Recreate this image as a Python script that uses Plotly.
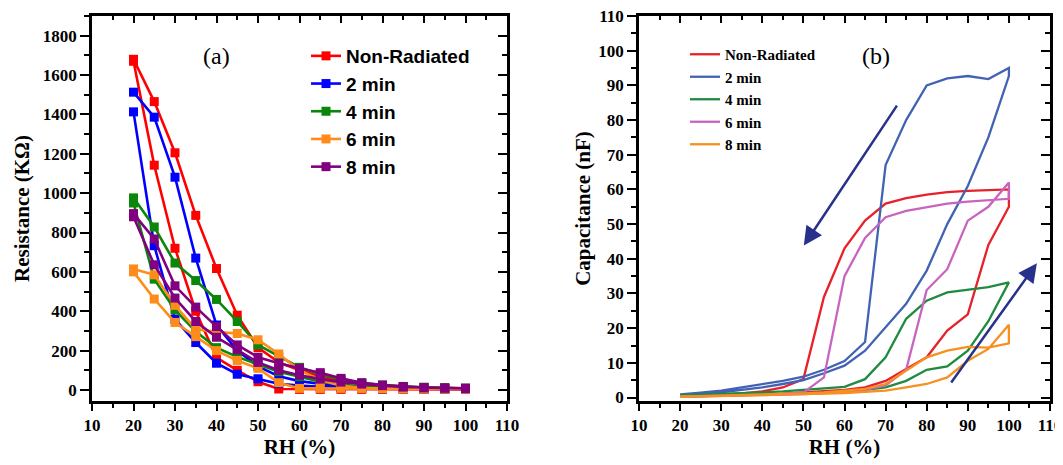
import plotly.graph_objects as go

# ---------------- data ----------------
RH = [20, 25, 30, 35, 40, 45, 50, 55, 60, 65, 70, 75, 80, 85, 90, 95, 100]

# Panel (a): resistance (KOhm), two branches each
series_a = ["Non-Radiated", "2 min", "4 min", "6 min", "8 min"]
res_red_up = [1680, 1465, 1205, 887, 617, 380, 215, 140, 100, 70, 45, 30, 20, 15, 12, 10, 8]
res_red_dn = [1670, 1142, 720, 400, 165, 100, 42, 5, 3, 3, 3, 3, 3, 3, 3, 3, 3]
res_blue_up = [1513, 1386, 1081, 670, 330, 200, 120, 70, 45, 30, 18, 12, 9, 7, 6, 5, 5]
res_blue_dn = [1413, 733, 360, 241, 136, 80, 57, 32, 22, 15, 10, 8, 6, 5, 5, 5, 5]
res_green_up = [976, 828, 645, 556, 460, 348, 229, 170, 115, 80, 55, 35, 25, 18, 14, 12, 10]
res_green_dn = [950, 563, 407, 297, 215, 168, 130, 93, 68, 42, 28, 18, 12, 9, 8, 7, 7]
res_orange_up = [615, 585, 430, 309, 295, 287, 255, 183, 100, 50, 22, 10, 8, 6, 5, 5, 5]
res_orange_dn = [600, 462, 343, 271, 200, 150, 110, 37, 8, 8, 8, 8, 6, 5, 5, 5, 5]
res_purple_up = [896, 767, 529, 421, 322, 229, 166, 136, 110, 88, 59, 37, 25, 17, 12, 10, 8]
res_purple_dn = [880, 636, 467, 348, 268, 204, 140, 100, 75, 55, 40, 30, 22, 15, 11, 9, 8]

# Panel (b): capacitance (nF), adsorption / desorption branches
series_b = ["Non-Radiated", "2 min", "4 min", "6 min", "8 min"]
cap_red_ads = [0.3, 0.4, 0.5, 0.7, 0.9, 1.1, 1.4, 1.8, 2.2, 2.9, 4.8, 8.2, 11.6, 19.3, 24, 44, 55]
cap_red_des = [0.4, 0.6, 0.8, 1.2, 1.8, 2.9, 5.3, 29, 43, 51, 55.9, 57.5, 58.5, 59.2, 59.6, 59.9, 60]
cap_blue_ads = [0.6, 1.0, 1.5, 2.2, 2.9, 3.9, 5.0, 7.0, 9.2, 13.5, 20.2, 27, 36.6, 50, 61, 75, 92.7]
cap_blue_des = [0.9, 1.4, 2.0, 2.8, 3.9, 4.8, 6.0, 8.0, 10.5, 16, 67, 80, 90, 92, 92.7, 91.8, 95]
cap_green_ads = [0.3, 0.4, 0.5, 0.6, 0.8, 1.0, 1.2, 1.4, 1.7, 2.2, 2.9, 4.8, 8.0, 9.0, 13.5, 22, 33]
cap_green_des = [0.6, 0.8, 1.0, 1.2, 1.5, 1.8, 2.2, 2.6, 3.1, 5.3, 11.6, 22.7, 27.9, 30.3, 31.1, 31.8, 33.2]
cap_pink_ads = [0.2, 0.3, 0.4, 0.5, 0.6, 0.8, 1.0, 1.3, 1.6, 2.2, 3.5, 8.0, 31, 37, 51, 55, 62]
cap_pink_des = [0.3, 0.4, 0.5, 0.6, 0.8, 1.0, 1.4, 5.8, 35, 46, 52, 53.8, 54.9, 55.9, 56.5, 57, 57.3]
cap_orange_ads = [0.2, 0.3, 0.4, 0.5, 0.6, 0.7, 0.9, 1.1, 1.3, 1.6, 2.0, 2.9, 3.9, 5.8, 10.6, 14, 21]
cap_orange_des = [0.3, 0.4, 0.5, 0.6, 0.8, 1.0, 1.2, 1.5, 1.9, 2.5, 3.9, 7.7, 11.6, 13.5, 14.6, 14.4, 15.6]

# Arrows in panel (b): (tail RH, tail C) -> (head RH, head C)
arrow_tail_rh = [73.0, 85.7]
arrow_tail_c = [84.6, 3.9]
arrow_head_rh = [50.1, 106.8]
arrow_head_c = [43.8, 38.7]

colors_a = ["#ff0000", "#0000ff", "#0a870a", "#ff8c1a", "#800080"]
colors_b = ["#e8202a", "#4262b4", "#1f8a40", "#c864c0", "#f7901e"]

# page body has an 8 px margin: figure drawn at (8, 8) in the window
OFF = 8
W, H = 1063 - OFF, 465 - OFF


def fx(px):
    return (px - OFF) / W


def fy(py):
    return 1 - (py - OFF) / H


fig = go.Figure()

ups = [res_red_up, res_blue_up, res_green_up, res_orange_up, res_purple_up]
dns = [res_red_dn, res_blue_dn, res_green_dn, res_orange_dn, res_purple_dn]
for name, up, dn, c in zip(series_a, ups, dns, colors_a):
    fig.add_trace(go.Scatter(
        x=RH + RH[::-1], y=up + dn[::-1], mode="lines+markers", name=name,
        line=dict(color=c, width=2.6),
        marker=dict(symbol="square", size=9, color=c),
        xaxis="x", yaxis="y", legend="legend"))

ads = [cap_red_ads, cap_blue_ads, cap_green_ads, cap_pink_ads, cap_orange_ads]
des = [cap_red_des, cap_blue_des, cap_green_des, cap_pink_des, cap_orange_des]
for name, a, d, c in zip(series_b, ads, des, colors_b):
    fig.add_trace(go.Scatter(
        x=RH + RH[::-1], y=a + d[::-1], mode="lines", name=name,
        line=dict(color=c, width=2.3),
        xaxis="x2", yaxis="y2", legend="legend2"))

# invisible traces for mirrored (top/right) axes
fig.add_trace(go.Scatter(x=[None], y=[None], xaxis="x3", yaxis="y3", showlegend=False, hoverinfo="skip"))
fig.add_trace(go.Scatter(x=[None], y=[None], xaxis="x4", yaxis="y4", showlegend=False, hoverinfo="skip"))

tickfont = dict(family="Liberation Serif", size=17, color="black", weight="bold")
titlefont = dict(family="Liberation Serif", size=21, color="black", weight="bold")

dom_a = [fx(92), fx(507)]
dom_b = [fx(639), fx(1050)]
dom_y = [fy(401), fy(16)]


def xax(domain, anchor, title, side="bottom", overlay=None, ticks="outside", labels=True):
    d = dict(domain=domain, anchor=anchor, range=[10, 110], tick0=10, dtick=10,
             ticks=ticks, ticklen=7, tickwidth=2, tickcolor="black",
             showline=True, linewidth=2.5, linecolor="black", mirror=False,
             showgrid=False, zeroline=False, side=side, showticklabels=labels,
             tickfont=tickfont, automargin=False, ticklabeloverflow="allow",
             minor=dict(dtick=5, tick0=10, ticks=ticks, ticklen=4, tickwidth=2,
                        tickcolor="black", showgrid=False))
    if title:
        d["title"] = dict(text=title, font=titlefont, standoff=6)
    if overlay:
        d["overlaying"] = overlay
    return d


def yax(domain, anchor, rng, dtick, mdtick, title, side="left", overlay=None,
        ticks="outside", labels=True, standoff=8):
    d = dict(domain=domain, anchor=anchor, range=rng, tick0=0, dtick=dtick,
             ticks=ticks, ticklen=9, tickwidth=2, tickcolor="black",
             showline=True, linewidth=2.5, linecolor="black", mirror=False,
             showgrid=False, zeroline=False, side=side, showticklabels=labels,
             tickfont=tickfont, automargin=False, ticklabeloverflow="allow",
             minor=dict(dtick=mdtick, tick0=0, ticks=ticks, ticklen=5, tickwidth=2,
                        tickcolor="black", showgrid=False))
    if title:
        d["title"] = dict(text=title, font=titlefont, standoff=standoff)
    if overlay:
        d["overlaying"] = overlay
    return d


fig.update_layout(
    width=W, height=H, margin=dict(l=0, r=0, t=0, b=0, autoexpand=False),
    paper_bgcolor="white", plot_bgcolor="white",
    xaxis=xax(dom_a, "y", "RH (%)"),
    yaxis=yax(dom_y, "x", [-56, 1900], 200, 100, "Resistance (KΩ)", standoff=8),
    xaxis2=xax(dom_b, "y2", "RH (%)"),
    yaxis2=yax(dom_y, "x2", [-1, 110], 10, 5, "Capacitance (nF)", standoff=2),
    xaxis3=xax(dom_a, "y3", None, side="top", overlay="x", ticks="inside", labels=False),
    yaxis3=yax(dom_y, "x3", [-56, 1900], 200, 100, None, side="right", overlay="y", ticks="inside", labels=False),
    xaxis4=xax(dom_b, "y4", None, side="top", overlay="x2", ticks="inside", labels=False),
    yaxis4=yax(dom_y, "x4", [-1, 110], 10, 5, None, side="right", overlay="y2", ticks="inside", labels=False),
    legend=dict(x=fx(306), y=fy(37), xanchor="left", yanchor="top",
                bgcolor="rgba(0,0,0,0)", borderwidth=0, tracegroupgap=0,
                font=dict(family="Liberation Sans", size=19, color="black", weight="bold")),
    legend2=dict(x=fx(685), y=fy(38), xanchor="left", yanchor="top",
                 bgcolor="rgba(0,0,0,0)", borderwidth=0, tracegroupgap=0,
                 font=dict(family="Liberation Serif", size=15, color="black", weight="bold")),
    showlegend=True,
)

fig.add_annotation(x=fx(216), y=fy(56), xref="paper", yref="paper", text="(a)",
                   xanchor="center", yanchor="middle", showarrow=False,
                   font=dict(family="Liberation Serif", size=24, color="black"))
fig.add_annotation(x=fx(876), y=fy(56), xref="paper", yref="paper", text="(b)",
                   xanchor="center", yanchor="middle", showarrow=False,
                   font=dict(family="Liberation Serif", size=24, color="black"))

for tx, ty, hx, hy in zip(arrow_tail_rh, arrow_tail_c, arrow_head_rh, arrow_head_c):
    fig.add_annotation(x=hx, y=hy, ax=tx, ay=ty, xref="x2", yref="y2", axref="x2", ayref="y2",
                       text="", showarrow=True, arrowhead=2, arrowsize=1.5, arrowwidth=2.5,
                       arrowcolor="#27318c")

fig.write_html("out.html")
